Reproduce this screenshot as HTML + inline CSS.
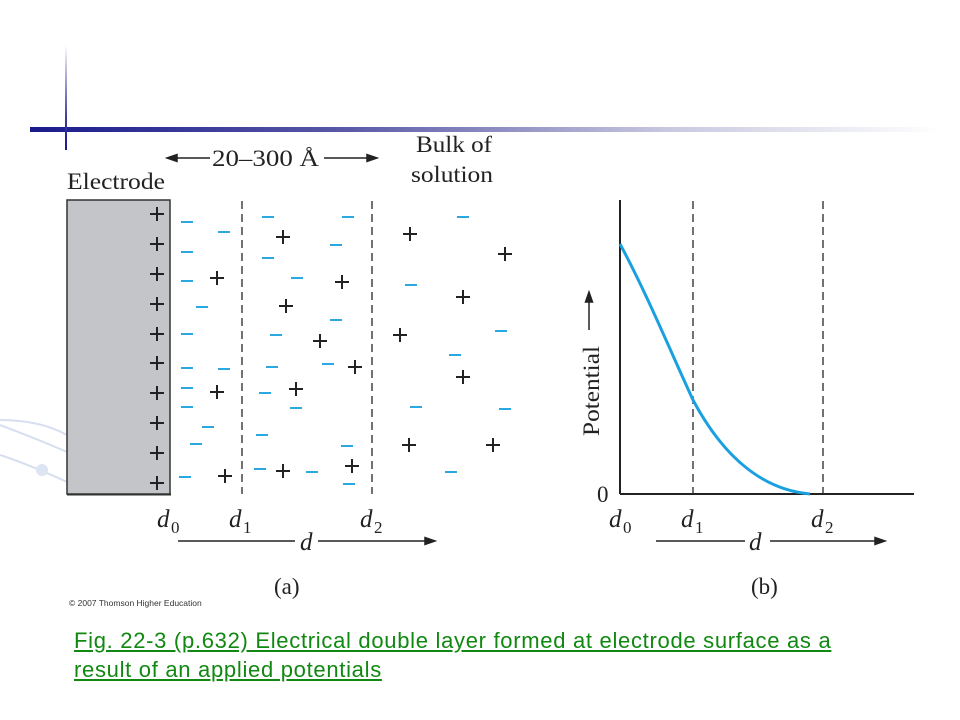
<!DOCTYPE html>
<html><head><meta charset="utf-8"><style>
body{margin:0;background:#fff;width:960px;height:720px;overflow:hidden}
svg{display:block}
.cap{position:absolute;left:74px;font-family:"Liberation Sans",sans-serif;font-size:22px;color:#118811;text-decoration:underline;white-space:nowrap;letter-spacing:0.7px}
</style></head><body>
<svg width="960" height="720" viewBox="0 0 960 720" xmlns="http://www.w3.org/2000/svg">
<defs>
<linearGradient id="hb" x1="0" x2="1"><stop offset="0" stop-color="#1a1a8c"/><stop offset="0.35" stop-color="#5a5aa8"/><stop offset="0.7" stop-color="#c8c8e0"/><stop offset="1" stop-color="#fff"/></linearGradient>
<linearGradient id="vb" x1="0" y1="1" x2="0" y2="0"><stop offset="0" stop-color="#1a1a8c"/><stop offset="0.3" stop-color="#3a3a9c"/><stop offset="1" stop-color="#fff"/></linearGradient>
</defs>
<rect x="30" y="127" width="910" height="5" fill="url(#hb)"/>
<rect x="65" y="45" width="2" height="105" fill="url(#vb)"/>
<g fill="none" stroke="#d6def0" stroke-width="2">
<path d="M0 420 Q40 420 67 435"/><path d="M0 425 Q40 440 67 452"/><path d="M0 455 Q30 465 67 482"/>
</g>
<circle cx="42" cy="470" r="6" fill="#dde4f2"/>
<g font-family="Liberation Serif,serif" fill="#222" font-size="23">
<text x="67" y="189" textLength="98" lengthAdjust="spacingAndGlyphs">Electrode</text>
<text x="212" y="166" textLength="107" lengthAdjust="spacingAndGlyphs">20–300 Å</text>
<text x="416" y="152" textLength="76" lengthAdjust="spacingAndGlyphs">Bulk of</text>
<text x="411" y="182" textLength="82" lengthAdjust="spacingAndGlyphs">solution</text>
</g>
<g stroke="#222" stroke-width="1.5" fill="#222">
<line x1="172" y1="158" x2="210" y2="158"/><path d="M167 158 l10 -3.5 l0 7z"/>
<line x1="324" y1="158" x2="370" y2="158"/><path d="M377 158 l-10 -3.5 l0 7z"/>
</g>
<rect x="67" y="200" width="103" height="294" fill="#c4c5c9" stroke="#333" stroke-width="1.5"/>
<line x1="67" y1="494.5" x2="171" y2="494.5" stroke="#333" stroke-width="2"/>
<g stroke="#444" stroke-width="1.5" stroke-dasharray="8,5">
<line x1="242" y1="201" x2="242" y2="494"/><line x1="372" y1="201" x2="372" y2="494"/>
<line x1="693" y1="201" x2="693" y2="494"/><line x1="823" y1="201" x2="823" y2="494"/>
</g>
<g stroke="#2aa8e0" stroke-width="2" id="minus"></g>
<g stroke="#222" stroke-width="2" id="plus"></g>
<g font-family="Liberation Serif,serif" fill="#222" font-style="italic" font-size="25">
<text x="157" y="527">d</text><text x="171" y="533" font-size="17" font-style="normal">0</text>
<text x="229" y="527">d</text><text x="243" y="533" font-size="17" font-style="normal">1</text>
<text x="360" y="527">d</text><text x="374" y="533" font-size="17" font-style="normal">2</text>
<text x="300" y="550">d</text>
<text x="609" y="527">d</text><text x="623" y="533" font-size="17" font-style="normal">0</text>
<text x="681" y="527">d</text><text x="695" y="533" font-size="17" font-style="normal">1</text>
<text x="811" y="527">d</text><text x="825" y="533" font-size="17" font-style="normal">2</text>
<text x="749" y="550">d</text>
</g>
<g font-family="Liberation Serif,serif" fill="#222" font-size="23">
<text x="274" y="594">(a)</text><text x="751" y="594">(b)</text>
<text x="597" y="502">0</text>
<text transform="translate(599,436) rotate(-90)" textLength="90" lengthAdjust="spacingAndGlyphs">Potential</text>
</g>
<g stroke="#222" stroke-width="1.5" fill="#222">
<line x1="178" y1="541" x2="295" y2="541"/><line x1="318" y1="541" x2="430" y2="541"/><path d="M435 541 l-10 -3.5 l0 7z"/>
<line x1="656" y1="541" x2="745" y2="541"/><line x1="770" y1="541" x2="880" y2="541"/><path d="M885 541 l-10 -3.5 l0 7z"/>
<line x1="589" y1="330" x2="589" y2="298"/><path d="M589 292 l-3.5 10 l7 0z"/>
<line x1="620" y1="200" x2="620" y2="494" stroke-width="2"/>
<line x1="620" y1="494" x2="914" y2="494" stroke-width="2"/>
</g>
<path d="M620 244 C645 290 670 350 693 400 C725 460 765 490 810 494" fill="none" stroke="#1aa0e0" stroke-width="3"/>
<text x="69" y="606" font-family="Liberation Sans,sans-serif" font-size="8.5" fill="#333">© 2007 Thomson Higher Education</text>
</svg>
<div class="cap" style="top:628px">Fig. 22-3 (p.632) Electrical double layer formed at electrode surface as a</div>
<div class="cap" style="top:657px">result of an applied potentials</div>
<script>
var ns="http://www.w3.org/2000/svg";
var M=[[187,222],[224,232],[187,252],[268,217],[348,217],[463,217],[268,258],[336,245],[187,281],[297,278],[411,285],[202,307],[336,320],[187,334],[276,335],[501,331],[455,355],[187,368],[224,369],[272,367],[328,364],[187,388],[265,393],[187,407],[296,408],[416,407],[505,409],[208,427],[196,444],[262,435],[347,446],[185,477],[260,469],[312,472],[349,484],[451,472]];
var P=[[157,214],[157,244],[157,274],[157,304],[157,334],[157,363],[157,393],[157,423],[157,453],[157,483],[283,237],[410,234],[505,254],[217,278],[342,282],[463,297],[286,306],[320,341],[400,335],[355,367],[463,377],[217,392],[296,389],[409,445],[493,445],[225,476],[283,471],[352,466]];
var gm=document.getElementById("minus"),gp=document.getElementById("plus");
function L(g,a,b,c,d){var l=document.createElementNS(ns,"line");l.setAttribute("x1",a);l.setAttribute("y1",b);l.setAttribute("x2",c);l.setAttribute("y2",d);g.appendChild(l);}
M.forEach(function(p){L(gm,p[0]-6,p[1],p[0]+6,p[1]);});
P.forEach(function(p){L(gp,p[0]-7,p[1],p[0]+7,p[1]);L(gp,p[0],p[1]-7,p[0],p[1]+7);});
</script>
</body></html>
